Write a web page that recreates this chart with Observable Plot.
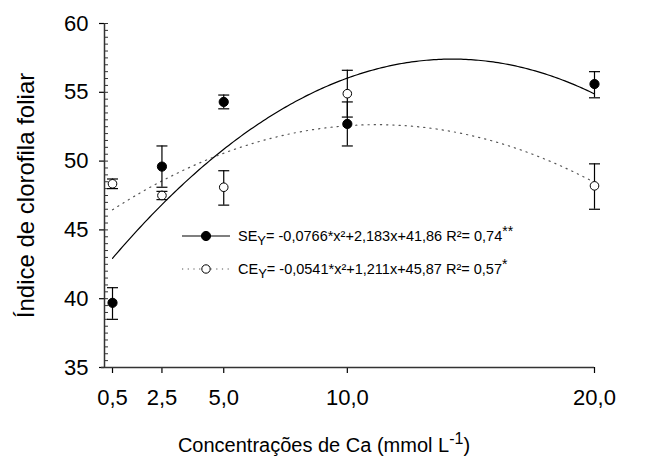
<!DOCTYPE html>
<html><head><meta charset="utf-8">
<script src="https://cdn.jsdelivr.net/npm/d3@7"></script>
<script src="https://cdn.jsdelivr.net/npm/@observablehq/plot@0.6"></script>
<style>
body{margin:0;background:#fff}
svg{font-family:"Liberation Sans",Arial,sans-serif}
</style>
</head><body><div id="chart"></div>
<script>
// ---- data ----
const doses = [0.5, 2.5, 5, 10, 20];
const seMean = [39.7, 49.6, 54.3, 52.7, 55.6];
const seLo   = [38.5, 48.1, 53.8, 51.1, 54.6];
const seHi   = [40.8, 51.1, 54.8, 54.3, 56.5];
const ceMean = [48.35, 47.5, 48.1, 54.9, 48.2];
const ceLo   = [48.0, 47.2, 46.8, 53.2, 46.5];
const ceHi   = [48.7, 47.8, 49.3, 56.6, 49.8];
const seCoef = [-0.0766, 2.183, 41.86];
const ceCoef = [-0.0541, 1.211, 45.87];
const xTicks = [0.5, 2.5, 5, 10, 20];
const yTicks = [35, 40, 45, 50, 55, 60];
const yMinor = d3.range(70, 121).map(v => v / 2);
const legendNames = ["SE", "CE"];
const legendEqs = ["= -0,0766*x²+2,183x+41,86 R²= 0,74", "= -0,0541*x²+1,211x+45,87 R²= 0,57"];
const legendSig = ["**", "*"];
const yTitle = "Índice de clorofila foliar";
const xTitle = ["Concentrações de Ca (mmol L", "-1", ")"];

// ---- tables ----
const se = doses.map((x, i) => ({x, y: seMean[i], lo: seLo[i], hi: seHi[i]}));
const ce = doses.map((x, i) => ({x, y: ceMean[i], lo: ceLo[i], hi: ceHi[i]}));
const xs = d3.range(0, 196).map(i => 0.5 + i * 0.1);
const quad = (c, x) => c[0] * x * x + c[1] * x + c[2];
const seCurve = xs.map(x => ({x, y: quad(seCoef, x)}));
const ceCurve = xs.map(x => ({x, y: quad(ceCoef, x)}));

const capSymbol = {draw(ctx, size) { const w = Math.sqrt(size / Math.PI); ctx.moveTo(-w, 0); ctx.lineTo(w, 0); }};
const FONT = '"Liberation Sans",Arial,sans-serif';
const xMin = 0.176;

function annotations(index, scales, values, dim) {
  const g = d3.create("svg:g").attr("font-family", FONT).attr("fill", "black").attr("text-anchor", "start");
  const L = dim.marginLeft, T = dim.marginTop;
  const rows = [213, 246];
  rows.forEach((ry, i) => {
    const y = T + ry;
    g.append("line").attr("x1", L + 78).attr("x2", L + 126).attr("y1", y).attr("y2", y)
      .attr("stroke", i === 0 ? "#000" : "#555").attr("stroke-width", 1.2)
      .attr("stroke-dasharray", i === 0 ? null : "1.2,4.5");
    g.append("circle").attr("cx", L + 102).attr("cy", y).attr("r", i === 0 ? 4.6 : 4.2)
      .attr("fill", i === 0 ? "#000" : "#fff").attr("stroke", "#000");
    const t = g.append("text").attr("x", L + 134).attr("y", y).attr("dy", "0.36em").attr("font-size", 14.5);
    t.append("tspan").text(legendNames[i]);
    t.append("tspan").attr("font-size", 13).attr("dy", 4).text("Y");
    t.append("tspan").attr("dy", -4).text(legendEqs[i]);
    t.append("tspan").attr("font-size", 14).attr("dy", -5).text(legendSig[i]);
  });
  const xt = g.append("text").attr("x", dim.width / 2 - 4).attr("y", dim.height - 7)
    .attr("text-anchor", "middle").attr("font-size", 20);
  xt.append("tspan").text(xTitle[0]);
  xt.append("tspan").attr("font-size", 16).attr("dy", -8).text(xTitle[1]);
  xt.append("tspan").attr("dy", 8).text(xTitle[2]);
  return g.node();
}

const chart = Plot.plot({
  width: 656, height: 459,
  marginLeft: 104, marginRight: 62, marginTop: 23, marginBottom: 92,
  style: {fontFamily: FONT, background: "white", color: "black"},
  x: {domain: [xMin, 20]},
  y: {domain: [35, 60]},
  marks: [
    Plot.axisY(yTicks, {tickSize: 5, tickPadding: 11, fontSize: 22, label: null, strokeWidth: 1.2}),
    Plot.axisY(yMinor, {tickSize: 4, dx: 4, tickFormat: () => "", label: null, stroke: "#333"}),
    Plot.axisX(xTicks, {tickSize: 6, tickPadding: 16, fontSize: 22, label: null, strokeWidth: 1.2,
      tickFormat: d => d.toFixed(1).replace(".", ",")}),
    Plot.ruleY([35], {stroke: "#333", strokeWidth: 1.5, insetLeft: -3}),
    Plot.ruleX([xMin], {y1: 35, y2: 60, stroke: "#333", strokeWidth: 1.5}),
    Plot.text([yTitle], {frameAnchor: "left", dx: -78, rotate: -90, fontSize: 24, fill: "black", textAnchor: "middle"}),
    Plot.line(seCurve, {x: "x", y: "y", stroke: "black", strokeWidth: 1.2}),
    Plot.line(ceCurve, {x: "x", y: "y", stroke: "#555", strokeWidth: 1.2, strokeDasharray: "1.2,5"}),
    Plot.ruleX(ce, {x: "x", y1: "lo", y2: "hi", stroke: "black", strokeWidth: 1.2}),
    Plot.dot(ce, {x: "x", y: "hi", symbol: capSymbol, r: 5.5, stroke: "black", strokeWidth: 1.2, fill: "none"}),
    Plot.dot(ce, {x: "x", y: "lo", symbol: capSymbol, r: 5.5, stroke: "black", strokeWidth: 1.2, fill: "none"}),
    Plot.ruleX(se, {x: "x", y1: "lo", y2: "hi", stroke: "black", strokeWidth: 1.2}),
    Plot.dot(se, {x: "x", y: "hi", symbol: capSymbol, r: 5.5, stroke: "black", strokeWidth: 1.2, fill: "none"}),
    Plot.dot(se, {x: "x", y: "lo", symbol: capSymbol, r: 5.5, stroke: "black", strokeWidth: 1.2, fill: "none"}),
    Plot.dot(ce, {x: "x", y: "y", r: 4.3, fill: "white", stroke: "black", strokeWidth: 1}),
    Plot.dot(se, {x: "x", y: "y", r: 4.6, fill: "black", stroke: "black", strokeWidth: 1}),
    annotations
  ]
});
document.getElementById("chart").appendChild(chart);
</script>
</body></html>
